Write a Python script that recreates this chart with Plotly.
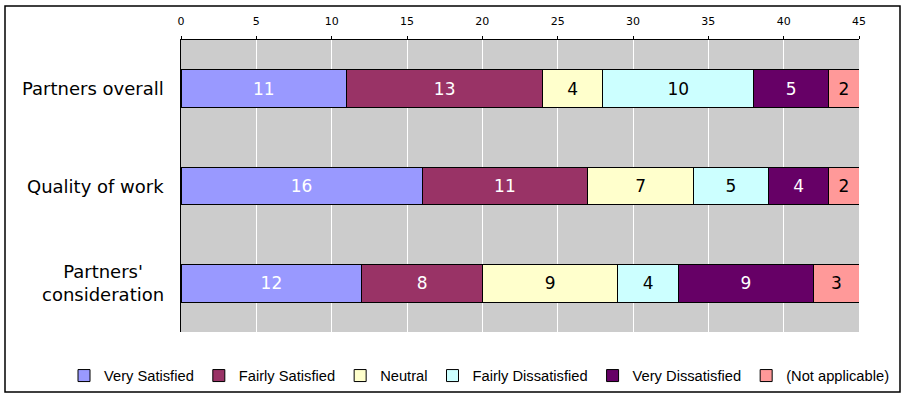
import plotly.graph_objects as go

categories = ["Partners overall", "Quality of work", "Partners'<br>consideration"]
series_names = ["Very Satisfied", "Fairly Satisfied", "Neutral",
                "Fairly Dissatisfied", "Very Dissatisfied", "(Not applicable)"]
very_satisfied = [11, 16, 12]
fairly_satisfied = [13, 11, 8]
neutral = [4, 7, 9]
fairly_dissatisfied = [10, 5, 4]
very_dissatisfied = [5, 4, 9]
not_applicable = [2, 2, 3]
x_ticks = [0, 5, 10, 15, 20, 25, 30, 35, 40, 45]

series_values = [very_satisfied, fairly_satisfied, neutral,
                 fairly_dissatisfied, very_dissatisfied, not_applicable]
colors = ["#9999FF", "#993366", "#FFFFCC", "#CCFFFF", "#660066", "#FF9999"]
text_colors = ["white", "white", "black", "black", "white", "black"]

W, H = 907, 396
ML, MR, MT, MB = 181, 48, 40, 64
pw, ph = W - ML - MR, H - MT - MB

fig = go.Figure()
for name, vals, c, tc in zip(series_names, series_values, colors, text_colors):
    fig.add_trace(go.Bar(
        y=categories, x=vals, name=name, orientation="h",
        marker=dict(color=c, line=dict(color="black", width=1)),
        text=vals, textposition="inside", insidetextanchor="middle",
        textfont=dict(color=tc, size=17, family="DejaVu Sans"),
        cliponaxis=False,
    ))

def px_x(p):
    return (p - ML) / pw

def px_y(p):
    return (H - MB - p) / ph

annotations = [dict(x=px_x(166), xref="paper", y=cat, yref="y",
                    text=cat, showarrow=False, xanchor="right", align="center",
                    font=dict(size=18, family="DejaVu Sans", color="black"))
               for cat in categories]

fig.update_layout(
    width=W, height=H,
    margin=dict(l=ML, r=MR, t=MT, b=MB, autoexpand=False),
    barmode="stack", bargap=0.61,
    paper_bgcolor="white", plot_bgcolor="#CCCCCC",
    font=dict(family="DejaVu Sans", color="black"),
    showlegend=True,
    legend=dict(orientation="h", x=px_x(64), xanchor="left",
                y=px_y(376), yanchor="middle", bgcolor="rgba(0,0,0,0)",
                font=dict(size=14.7, family="Liberation Sans"),
                traceorder="normal", itemwidth=30),
    xaxis=dict(side="top", range=[0, 45], tickvals=x_ticks,
               showgrid=True, gridcolor="white", gridwidth=1,
               showline=True, linecolor="black", linewidth=1,
               ticks="outside", ticklen=3, tickcolor="black",
               ticklabelstandoff=7,
               tickfont=dict(size=11, family="DejaVu Sans"), zeroline=False),
    yaxis=dict(autorange="reversed", showline=True, linecolor="black", linewidth=1,
               showticklabels=False, ticks="", showgrid=False),
    annotations=annotations,
    shapes=[dict(type="rect", xref="paper", yref="paper",
                 x0=px_x(5), x1=px_x(900), y0=px_y(392), y1=px_y(6),
                 line=dict(color="black", width=1.5))],
)

fig.write_html("out.html",
               config={"displayModeBar": False},
               post_script="document.body.style.margin='0';document.body.style.overflow='hidden';")
